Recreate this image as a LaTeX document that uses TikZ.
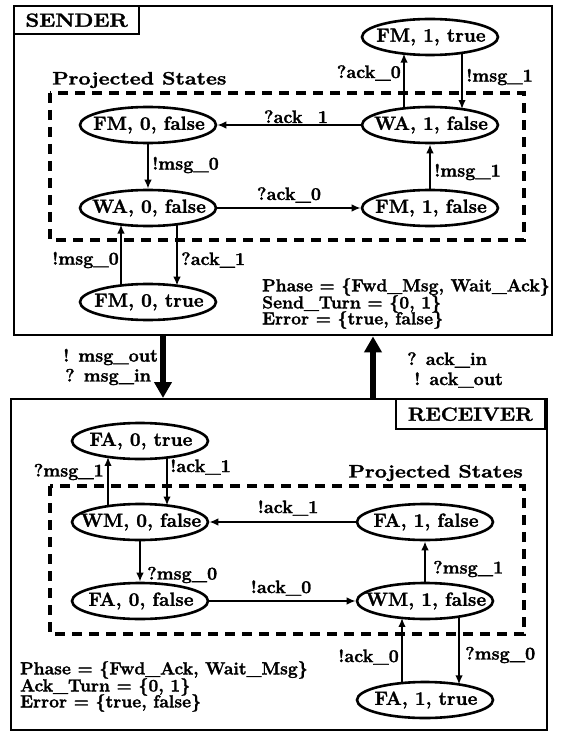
\documentclass[tikz,border=0pt]{standalone}
\usepackage{fontspec}
\setmainfont{Latin Modern Roman}[BoldFeatures={FakeBold=1.6}]
\usetikzlibrary{arrows.meta,shapes.geometric,calc}
\newcommand\statetxt[1]{\makebox[0pt]{\fontsize{19}{21}\selectfont\bfseries\hspace*{2pt}#1}}
\begin{document}
\begin{tikzpicture}[x=1pt,y=-1pt,
  every node/.style={font={\fontsize{18}{20}\selectfont\bfseries}},
  state/.style={ellipse,draw,line width=2.6pt,minimum width=136pt,minimum height=36pt,inner sep=0pt},
  tr/.style={line width=2pt,-{Latex[length=9pt,width=7.5pt]}},
  big/.style={line width=6pt,-{Triangle[length=16pt,width=17pt]}},
  box/.style={draw,line width=2.4pt,inner sep=0pt},
  tag/.style={box,font={\fontsize{19}{21}\selectfont\bfseries}},
  proj/.style={line width=4pt,dash pattern=on 10pt off 7pt},
  lbl/.style={inner sep=0pt},
  info/.style={inner sep=0pt,anchor=west,font={\fontsize{17.5}{19}\selectfont\bfseries}},
]
\useasboundingbox (0,0) rectangle (569,735);
\fill[white] (0,0) rectangle (569,735);

% ---------------- SENDER ----------------
\node[box,anchor=north west,minimum width=538pt,minimum height=329pt] (sender) at (13,5) {};
\node[tag,anchor=north west,minimum width=125pt,minimum height=28pt] (sendertag) at (13,5) {\scalebox{1.15}[1]{SENDER}};
\node[lbl,anchor=west] (sproj) at (52,80) {\scalebox{1.19}[1]{Projected States}};
\draw[proj] (50,93) rectangle (524,240);

\node[state] (sfm1t) at (430,37) {\statetxt{FM, 1, true}};
\node[state] (sfm0f) at (148,125) {\statetxt{FM, 0, false}};
\node[state] (swa1f) at (430,125) {\statetxt{WA, 1, false}};
\node[state] (swa0f) at (148,208) {\statetxt{WA, 0, false}};
\node[state] (sfm1f) at (430,208) {\statetxt{FM, 1, false}};
\node[state] (sfm0t) at (148,302) {\statetxt{FM, 0, true}};

\draw[tr] ($(swa1f.center)+(-26,-16.6)$) -- ($(sfm1t.center)+(-26,16.6)$);
\draw[tr] ($(sfm1t.center)+(32,15.9)$) -- ($(swa1f.center)+(32,-15.9)$);
\draw[tr] (swa1f.west) -- (sfm0f.east);
\draw[tr] (sfm0f.south) -- (swa0f.north);
\draw[tr] (swa0f.east) -- (sfm1f.west);
\draw[tr] (sfm1f.north) -- (swa1f.south);
\draw[tr] ($(sfm0t.center)+(-27,-16.5)$) -- ($(swa0f.center)+(-27,16.5)$);
\draw[tr] ($(swa0f.center)+(29,16.3)$) -- ($(sfm0t.center)+(29,-16.3)$);

\node[lbl,anchor=east] (sl1) at (401,73) {?ack\_0};
\node[lbl,anchor=west] (sl2) at (466,77) {!msg\_1};
\node[lbl] (sl3) at (296,118) {?ack\_1};
\node[lbl,anchor=west] (sl4) at (152,165) {!msg\_0};
\node[lbl] (sl5) at (289,195) {?ack\_0};
\node[lbl,anchor=west] (sl6) at (434,172) {!msg\_1};
\node[lbl,anchor=east] (sl7) at (119,260) {!msg\_0};
\node[lbl,anchor=west] (sl8) at (181,260) {?ack\_1};

\node[info] (si1) at (262,287) {Phase = \{Fwd\_Msg, Wait\_Ack\}};
\node[info] (si2) at (262,304) {Send\_Turn = \{0, 1\}};
\node[info] (si3) at (262,320) {Error = \{true, false\}};

% ---------------- RECEIVER ----------------
\node[box,anchor=north west,minimum width=536pt,minimum height=331pt] (receiver) at (10,398) {};
\node[tag,anchor=north east,minimum width=149pt,minimum height=30pt] (receivertag) at (546,398) {\scalebox{1.1}[1]{RECEIVER}};
\node[lbl,anchor=east] (rproj) at (523,473) {\scalebox{1.19}[1]{Projected States}};
\draw[proj] (50,486) rectangle (524,634);

\node[state] (rfa0t) at (140,441) {\statetxt{FA, 0, true}};
\node[state] (rwm0f) at (140,522) {\statetxt{WM, 0, false}};
\node[state] (rfa0f) at (140,601) {\statetxt{FA, 0, false}};
\node[state] (rfa1f) at (425,522) {\statetxt{FA, 1, false}};
\node[state] (rwm1f) at (425,601) {\statetxt{WM, 1, false}};
\node[state] (rfa1t) at (425,700) {\statetxt{FA, 1, true}};

\draw[tr] ($(rwm0f.center)+(-32,-15.9)$) -- ($(rfa0t.center)+(-32,15.9)$);
\draw[tr] ($(rfa0t.center)+(27,16.5)$) -- ($(rwm0f.center)+(27,-16.5)$);
\draw[tr] (rfa1f.west) -- (rwm0f.east);
\draw[tr] (rwm0f.south) -- (rfa0f.north);
\draw[tr] (rfa0f.east) -- (rwm1f.west);
\draw[tr] (rwm1f.north) -- (rfa1f.south);
\draw[tr] ($(rfa1t.center)+(-23,-16.9)$) -- ($(rwm1f.center)+(-23,16.9)$);
\draw[tr] ($(rwm1f.center)+(34,15.6)$) -- ($(rfa1t.center)+(34,-15.6)$);

\node[lbl,anchor=east] (rl1) at (104,472) {?msg\_1};
\node[lbl,anchor=west] (rl2) at (170,467) {!ack\_1};
\node[lbl] (rl3) at (288,508) {!ack\_1};
\node[lbl,anchor=west] (rl4) at (147,575) {?msg\_0};
\node[lbl] (rl5) at (281,588) {!ack\_0};
\node[lbl,anchor=west] (rl6) at (433,569) {?msg\_1};
\node[lbl,anchor=east] (rl7) at (399,657) {!ack\_0};
\node[lbl,anchor=west] (rl8) at (465,655) {?msg\_0};

\node[info] (ri1) at (20,670) {Phase = \{Fwd\_Ack, Wait\_Msg\}};
\node[info] (ri2) at (20,687) {Ack\_Turn = \{0, 1\}};
\node[info] (ri3) at (20,703) {Error = \{true, false\}};

% ---------------- interface ----------------
\coordinate (ia) at (163,0);
\coordinate (ib) at (373,0);
\draw[big] (sender.south -| ia) -- (receiver.north -| ia);
\draw[big] (receiver.north -| ib) -- (sender.south -| ib);
\node[lbl,anchor=west] (m1) at (63,357) {! msg\_out};
\node[lbl,anchor=west] (m2) at (65,377) {? msg\_in};
\node[lbl,anchor=west] (a1) at (407,360) {? ack\_in};
\node[lbl,anchor=west] (a2) at (414,380) {! ack\_out};
\end{tikzpicture}
\end{document}
